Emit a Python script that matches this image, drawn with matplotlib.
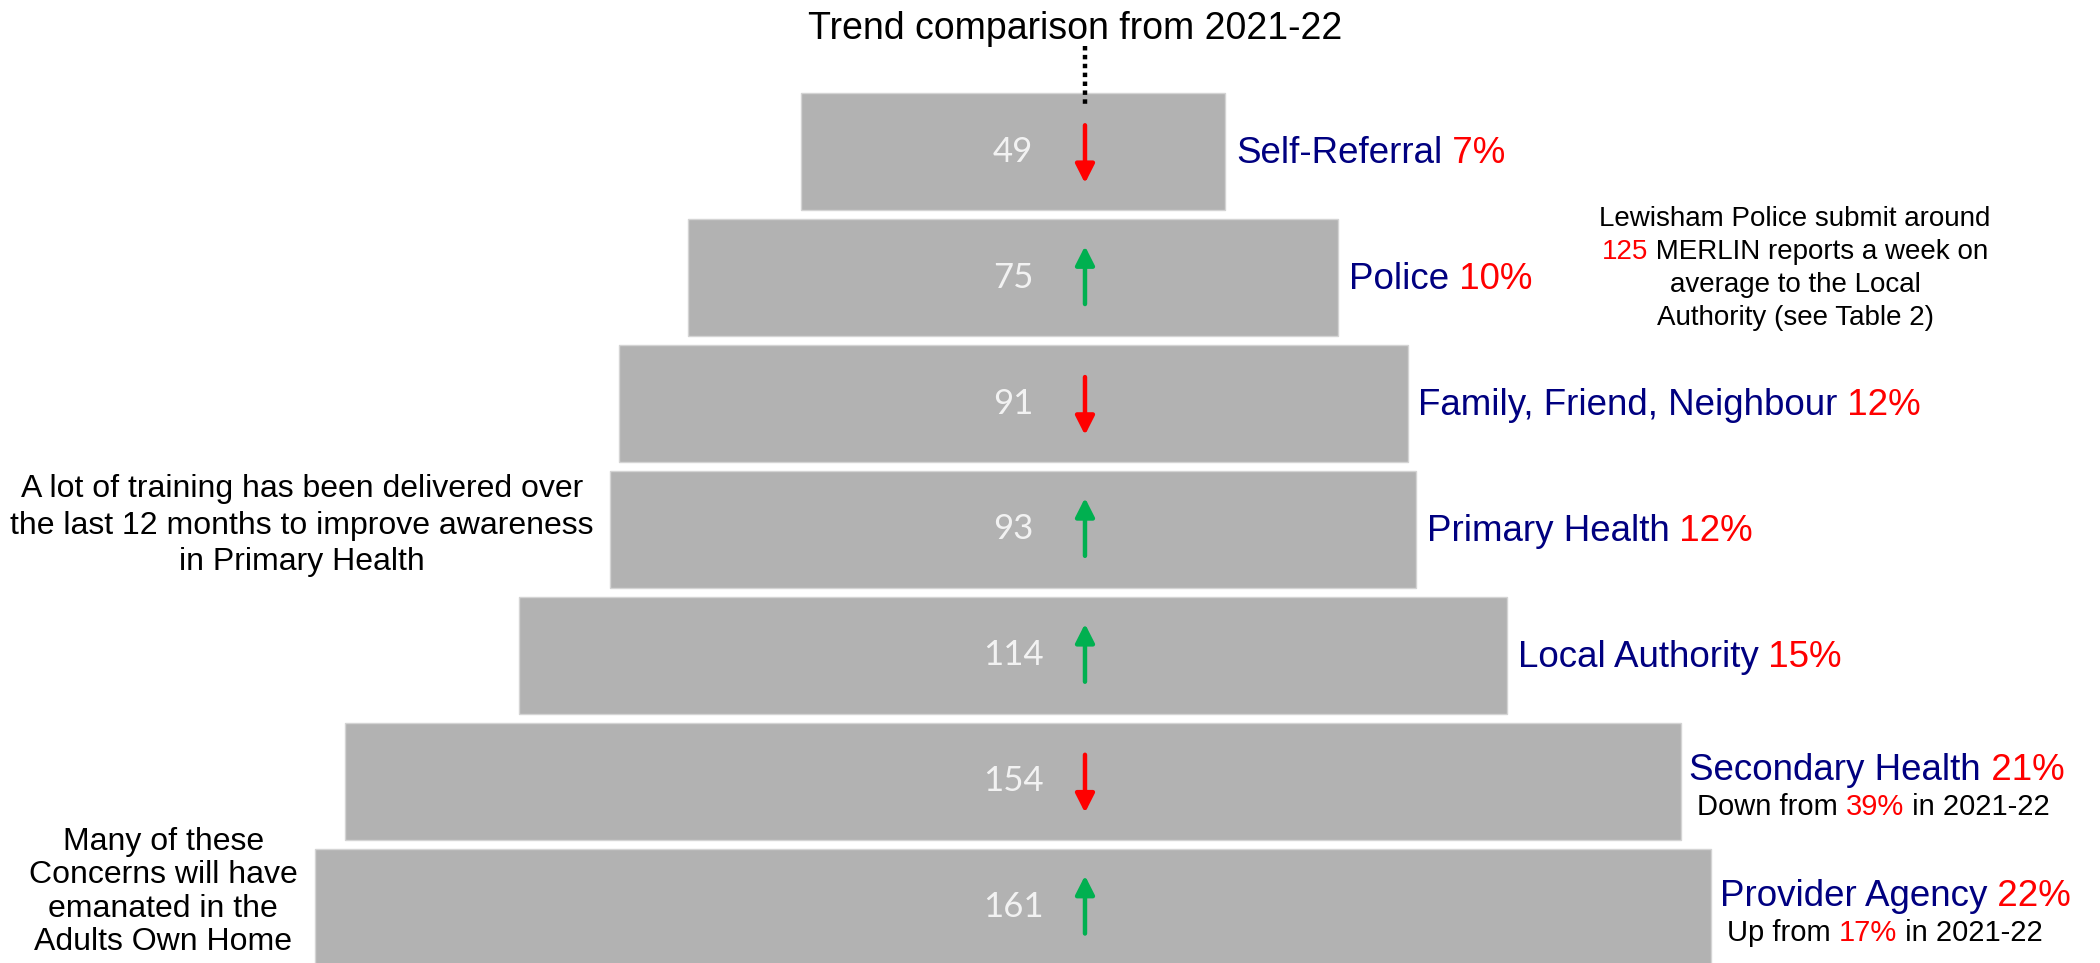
import matplotlib
matplotlib.use('Agg')
import matplotlib.pyplot as plt
from matplotlib.transforms import offset_copy

plt.rcParams['font.family'] = ['Liberation Sans', 'DejaVu Sans']

# data
categories = ['Self-Referral', 'Police', 'Family, Friend, Neighbour', 'Primary Health',
              'Local Authority', 'Secondary Health', 'Provider Agency']
counts = [49, 75, 91, 93, 114, 154, 161]
shares = ['7%', '10%', '12%', '12%', '15%', '21%', '22%']
trend = ['down', 'up', 'down', 'up', 'up', 'down', 'up']
prev_word = ['', '', '', '', '', 'Down from ', 'Up from ']
prev_share = ['', '', '', '', '', '39%', '17%']

NAVY = '#000080'
RED = '#ff0000'
GREEN = '#00b050'

fig = plt.figure(figsize=(21, 9.63), dpi=100)
ax = fig.add_axes([0, 0, 1, 1])
ax.set_xlim(-116.84, 125.37)
ax.set_ylim(6.444, -1.205)
ax.axis('off')
renderer = fig.canvas.get_renderer()

rows = list(range(len(counts)))
ax.barh(rows, counts, left=[-c / 2 for c in counts], height=0.927,
        color='#b2b2b2', edgecolor='#d4d4d4', linewidth=1)


def multicolour(x, y, parts, size, ha='left'):
    # parts = [(text, colour), ...] laid out one after another on a baseline
    shift = 0
    if ha == 'center':
        tmp = ax.text(x, y, ''.join(p for p, c in parts), fontsize=size)
        shift = -tmp.get_window_extent(renderer).width / 2
        tmp.remove()
    tr = offset_copy(ax.transData, fig=fig, x=shift, y=0, units='dots')
    prev = ax.text(x, y, parts[0][0], fontsize=size, ha='left', va='baseline',
                   color=parts[0][1], transform=tr)
    for s, c in parts[1:]:
        prev = ax.annotate(s, xy=(1, 0), xycoords=prev, ha='left', va='bottom',
                           fontsize=size, color=c)


arrow_x = 8.3
for i, c in enumerate(counts):
    ax.text(0, i, str(c), ha='center', va='center', color='#f2f2f2',
            fontsize=25, family=['Lato', 'DejaVu Sans'])
    if trend[i] == 'up':
        head, tail, col = i - 0.25, i + 0.21, GREEN
    else:
        head, tail, col = i + 0.25, i - 0.21, RED
    ax.annotate('', xy=(arrow_x, head), xytext=(arrow_x, tail),
                arrowprops=dict(arrowstyle='-|>,head_length=0.75,head_width=0.38',
                                color=col, lw=3.2, shrinkA=0, shrinkB=0,
                                mutation_scale=15))
    if prev_word[i]:
        multicolour(c / 2 + 1.0, i - 0.01, [(categories[i], NAVY), (' ' + shares[i], RED)], 26.5)
        multicolour(c / 2 + 1.85, i + 0.27,
                    [(prev_word[i], 'black'), (prev_share[i], RED), (' in 2021-22', 'black')], 21)
    else:
        multicolour(c / 2 + 1.2, i + 0.09, [(categories[i], NAVY), (' ' + shares[i], RED)], 26.5)

# title and pointer
ax.text(7.15, -0.975, 'Trend comparison from 2021-22', ha='center', va='center', fontsize=27)
ax.plot([arrow_x, arrow_x], [-0.84, -0.355], color='black', lw=3.2,
        ls=(0, (1, 1)), dash_capstyle='butt')

# side notes
lewisham = [[('Lewisham Police submit around', 'black')],
            [('125', RED), (' MERLIN reports a week on', 'black')],
            [('average to the Local', 'black')],
            [('Authority (see Table 2)', 'black')]]
for k, line in enumerate(lewisham):
    multicolour(90.2, 0.59 + k * 0.262, line, 20, ha='center')

ax.text(-82.0, 2.97, 'A lot of training has been delivered over\n'
        'the last 12 months to improve awareness\nin Primary Health',
        ha='center', va='center', fontsize=23, linespacing=1.28)
ax.text(-98.0, 5.88, 'Many of these\nConcerns will have\nemanated in the\nAdults Own Home',
        ha='center', va='center', fontsize=23, linespacing=1.15)

fig.savefig('out.png', dpi=100)
